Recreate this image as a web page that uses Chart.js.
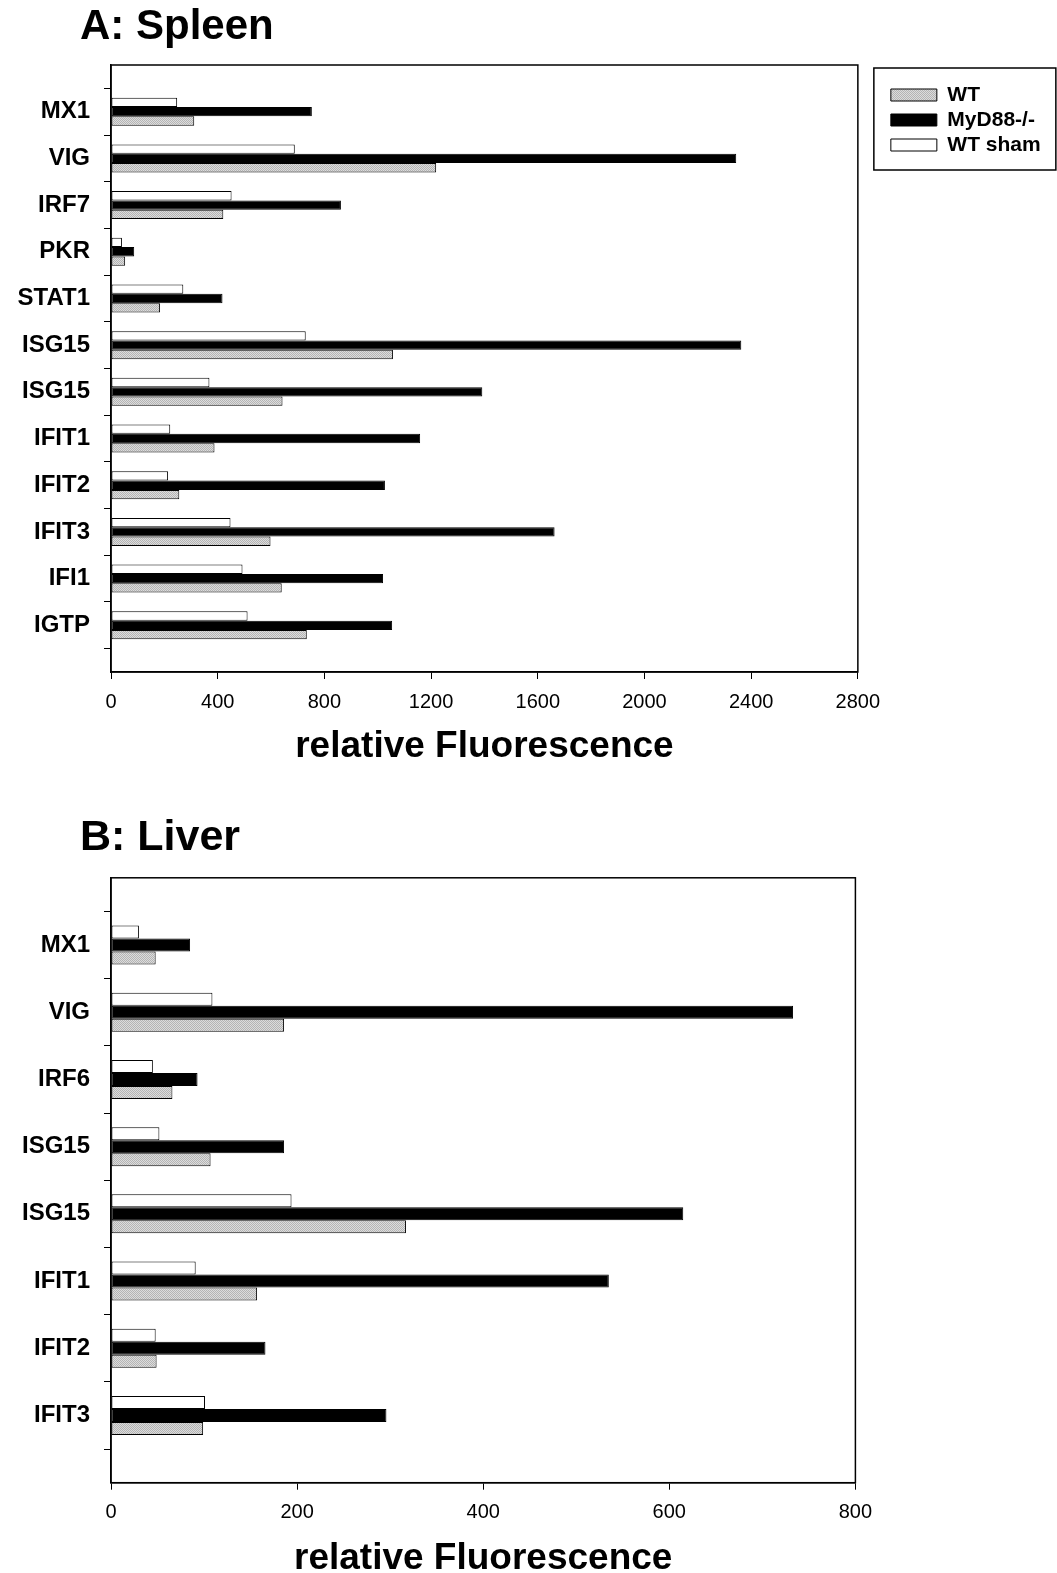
<!DOCTYPE html>
<html>
<head>
<meta charset="utf-8">
<script src="https://cdn.jsdelivr.net/npm/chart.js@4.4.1/dist/chart.umd.min.js"></script>
<style>
  html, body { margin: 0; padding: 0; background: #fff; overflow: hidden; }
  .panel { position: absolute; left: 0; width: 1057px; }
  #spleenBox { top: 0; height: 780px; }
  #liverBox { top: 780px; height: 810px; }
</style>
</head>
<body>
<div class="panel" id="spleenBox"><canvas id="spleen" width="1057" height="780"></canvas></div>
<div class="panel" id="liverBox"><canvas id="liver" width="1057" height="810"></canvas></div>
<script>
// ---- Panel A: spleen ----
const spleenGenes = ['MX1', 'VIG', 'IRF7', 'PKR', 'STAT1', 'ISG15', 'ISG15', 'IFIT1', 'IFIT2', 'IFIT3', 'IFI1', 'IGTP'];
const spleenWT    = [312, 1219, 421, 53, 184, 1057, 643, 388, 256, 598, 640, 734];
const spleenMyD88 = [753, 2344, 862, 87, 418, 2363, 1392, 1159, 1027, 1663, 1020, 1054];
const spleenSham  = [248, 689, 452, 41, 271, 730, 369, 222, 214, 448, 493, 512];
const spleenTicks = [0, 400, 800, 1200, 1600, 2000, 2400, 2800];

// ---- Panel B: liver ----
const liverGenes = ['MX1', 'VIG', 'IRF6', 'ISG15', 'ISG15', 'IFIT1', 'IFIT2', 'IFIT3'];
const liverWT    = [48, 186, 66, 107, 317, 157, 49, 99];
const liverMyD88 = [85, 733, 93, 186, 615, 535, 166, 296];
const liverSham  = [30, 109, 45, 52, 194, 91, 48, 101];
const liverTicks = [0, 200, 400, 600, 800];

const seriesNames = ['WT', 'MyD88-/-', 'WT sham'];
const FONT = "'Liberation Sans', Arial, Helvetica, sans-serif";

// light grey stipple fill for the WT bars
function stipple() {
  const c = document.createElement('canvas');
  c.width = 2; c.height = 2;
  const g = c.getContext('2d');
  g.fillStyle = '#dcdcdc'; g.fillRect(0, 0, 2, 2);
  g.fillStyle = '#b4b4b4'; g.fillRect(0, 0, 1, 1); g.fillRect(1, 1, 1, 1);
  return g.createPattern(c, 'repeat');
}
const greyFill = stipple();

// box around the plotting area; gene labels may use the full left margin
const frame = {
  id: 'frame',
  afterLayout(chart) {
    chart.scales.y.left = 0;
  },
  afterDraw(chart) {
    const { ctx, chartArea: a } = chart;
    ctx.save();
    ctx.strokeStyle = '#000';
    ctx.lineWidth = 1.5;
    ctx.strokeRect(a.left, a.top, a.right - a.left, a.bottom - a.top);
    ctx.restore();
  }
};

// nudges the legend into place and draws a border round it
const legendFrame = {
  id: 'legendFrame',
  afterLayout(chart, args, opts) {
    const lg = chart.legend;
    lg.left += opts.dx; lg.right += opts.dx;
    lg.top += opts.dy; lg.bottom += opts.dy;
  },
  afterDraw(chart, args, opts) {
    const lg = chart.legend;
    const ctx = chart.ctx;
    ctx.save();
    ctx.strokeStyle = '#000';
    ctx.lineWidth = 1.5;
    ctx.strokeRect(lg.left - opts.insetX, lg.top - opts.insetY, opts.width, opts.height);
    ctx.restore();
  }
};

function buildChart(id, cfg) {
  // one blank slot above and below the genes
  const labels = [''].concat(cfg.genes, ['']);
  const pad = arr => [null].concat(arr, [null]);
  const step = cfg.ticks[1] - cfg.ticks[0];
  const barOpts = { borderColor: '#000', borderWidth: 1, borderSkipped: false,
                    barPercentage: 1.0, categoryPercentage: cfg.catPct };

  return new Chart(document.getElementById(id), {
    type: 'bar',
    data: {
      labels,
      datasets: [
        Object.assign({ label: seriesNames[2], data: pad(cfg.sham), backgroundColor: '#ffffff' }, barOpts),
        Object.assign({ label: seriesNames[1], data: pad(cfg.myd88), backgroundColor: '#000000' }, barOpts),
        Object.assign({ label: seriesNames[0], data: pad(cfg.wt), backgroundColor: greyFill }, barOpts)
      ]
    },
    plugins: cfg.legend ? [frame, legendFrame] : [frame],
    options: {
      indexAxis: 'y',
      responsive: false,
      animation: false,
      devicePixelRatio: 1,
      layout: { padding: cfg.padding },
      plugins: {
        title: {
          display: true, text: cfg.title, align: 'start', color: '#000',
          font: { family: FONT, size: cfg.titleSize, weight: 'bold' },
          padding: cfg.titlePad
        },
        legend: {
          display: !!cfg.legend,
          position: 'right',
          align: 'start',
          reverse: true,
          labels: {
            color: '#000', boxWidth: 46, boxHeight: 12, padding: 4,
            font: { family: FONT, size: 21, weight: 'bold' }
          }
        },
        legendFrame: { dx: 29, dy: 80.5, insetX: 13, insetY: 12.5, width: 182, height: 102 },
        tooltip: { enabled: false }
      },
      scales: {
        x: {
          type: 'linear',
          min: cfg.ticks[0],
          max: cfg.ticks[cfg.ticks.length - 1],
          afterFit: s => { s.height = cfg.xAxisHeight; },
          ticks: {
            stepSize: step, color: '#000', padding: 11, maxRotation: 0,
            font: { family: FONT, size: 20 },
            callback: v => String(v)
          },
          grid: { drawOnChartArea: false, drawTicks: true, tickLength: 7, color: '#000', lineWidth: 1 },
          border: { display: true, color: '#000', width: 1.5 },
          title: {
            display: true, text: 'relative Fluorescence', color: '#000',
            font: { family: FONT, size: 37, weight: 'bold' },
            padding: { top: 0, bottom: 0 }
          }
        },
        y: {
          type: 'category',
          offset: false,
          afterFit: s => { s.width = 31; },
          ticks: {
            color: '#000', padding: 14, autoSkip: false,
            font: { family: FONT, size: 24, weight: 'bold' }
          },
          grid: { drawOnChartArea: false, drawTicks: true, tickLength: 7, color: '#000', lineWidth: 1 },
          border: { display: true, color: '#000', width: 1.5 }
        }
      }
    }
  });
}

buildChart('spleen', {
  genes: spleenGenes, wt: spleenWT, myd88: spleenMyD88, sham: spleenSham,
  ticks: spleenTicks, title: 'A: Spleen', titleSize: 42,
  titlePad: { top: 1.8, bottom: 12.8 },
  padding: { left: 80, right: 35.3, top: 0, bottom: 10.8 },
  xAxisHeight: 97.2, catPct: 0.6, legend: true
});

buildChart('liver', {
  genes: liverGenes, wt: liverWT, myd88: liverMyD88, sham: liverSham,
  ticks: liverTicks, title: 'B: Liver', titleSize: 43,
  titlePad: { top: 31.9, bottom: 14.3 },
  padding: { left: 80, right: 201.6, top: 0, bottom: 9.2 },
  xAxisHeight: 98.1, catPct: 0.58, legend: false
});
</script>
</body>
</html>
